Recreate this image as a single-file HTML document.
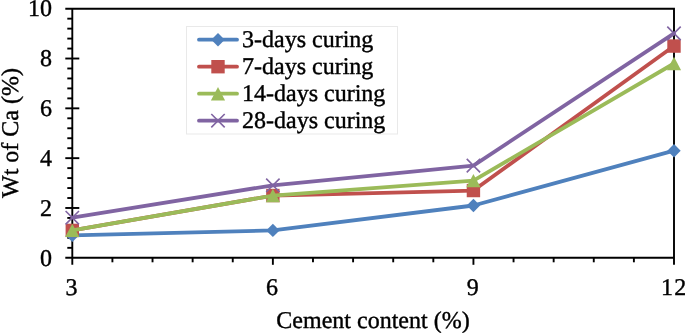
<!DOCTYPE html><html><head><meta charset="utf-8"><style>html,body{margin:0;padding:0;background:#fff;overflow:hidden}svg{display:block;will-change:transform}text{font-family:"Liberation Serif",serif;font-size:24px;fill:#000;stroke:#000;stroke-width:0.4px;text-rendering:geometricPrecision}</style></head><body>
<svg width="685" height="333" viewBox="0 0 685 333">
<rect width="685" height="333" fill="#fff"/>
<g stroke="#000" stroke-width="1.9" fill="none" stroke-linecap="butt">
<path d="M65.30,8.70 H674.00 V264.80"/>
<path d="M72.30,8.70 V264.80"/>
<path d="M65.30,257.80 H674.00"/>
<path d="M67.30,247.84 H72.30"/>
<path d="M67.30,237.87 H72.30"/>
<path d="M67.30,227.91 H72.30"/>
<path d="M67.30,217.94 H72.30"/>
<path d="M65.30,207.98 H79.30"/>
<path d="M67.30,198.02 H72.30"/>
<path d="M67.30,188.05 H72.30"/>
<path d="M67.30,178.09 H72.30"/>
<path d="M67.30,168.12 H72.30"/>
<path d="M65.30,158.16 H79.30"/>
<path d="M67.30,148.20 H72.30"/>
<path d="M67.30,138.23 H72.30"/>
<path d="M67.30,128.27 H72.30"/>
<path d="M67.30,118.30 H72.30"/>
<path d="M65.30,108.34 H79.30"/>
<path d="M67.30,98.38 H72.30"/>
<path d="M67.30,88.41 H72.30"/>
<path d="M67.30,78.45 H72.30"/>
<path d="M67.30,68.48 H72.30"/>
<path d="M65.30,58.52 H79.30"/>
<path d="M67.30,48.56 H72.30"/>
<path d="M67.30,38.59 H72.30"/>
<path d="M67.30,28.63 H72.30"/>
<path d="M67.30,18.66 H72.30"/>
<path d="M112.41,257.80 V262.30"/>
<path d="M152.53,257.80 V262.30"/>
<path d="M192.64,257.80 V262.30"/>
<path d="M232.75,257.80 V262.30"/>
<path d="M272.87,257.80 V264.80"/>
<path d="M312.98,257.80 V262.30"/>
<path d="M353.09,257.80 V262.30"/>
<path d="M393.21,257.80 V262.30"/>
<path d="M433.32,257.80 V262.30"/>
<path d="M473.43,257.80 V264.80"/>
<path d="M513.55,257.80 V262.30"/>
<path d="M553.66,257.80 V262.30"/>
<path d="M593.77,257.80 V262.30"/>
<path d="M633.89,257.80 V262.30"/>
</g>
<rect x="186.5" y="26.5" width="211" height="107.5" fill="#fff" stroke="#e9e9e9" stroke-width="1"/>
<polyline points="72.30,235.38 272.87,230.40 473.43,205.49 674.00,150.69" fill="none" stroke="#4F81BD" stroke-width="3.8" stroke-linejoin="round" stroke-linecap="round"/>
<path d="M65.60,235.38 L72.30,228.68 L79.00,235.38 L72.30,242.08Z" fill="#4F81BD"/>
<path d="M266.17,230.40 L272.87,223.70 L279.57,230.40 L272.87,237.10Z" fill="#4F81BD"/>
<path d="M466.73,205.49 L473.43,198.79 L480.13,205.49 L473.43,212.19Z" fill="#4F81BD"/>
<path d="M667.30,150.69 L674.00,143.99 L680.70,150.69 L674.00,157.39Z" fill="#4F81BD"/>
<polyline points="72.30,230.40 272.87,195.53 473.43,190.54 674.00,46.06" fill="none" stroke="#C0504D" stroke-width="3.8" stroke-linejoin="round" stroke-linecap="round"/>
<rect x="65.60" y="223.70" width="13.40" height="13.40" fill="#C0504D"/>
<rect x="266.17" y="188.83" width="13.40" height="13.40" fill="#C0504D"/>
<rect x="466.73" y="183.84" width="13.40" height="13.40" fill="#C0504D"/>
<rect x="667.30" y="39.36" width="13.40" height="13.40" fill="#C0504D"/>
<polyline points="72.30,230.40 272.87,195.53 473.43,180.58 674.00,63.50" fill="none" stroke="#9BBB59" stroke-width="3.8" stroke-linejoin="round" stroke-linecap="round"/>
<path d="M72.30,223.70 L79.40,237.10 L65.20,237.10Z" fill="#9BBB59"/>
<path d="M272.87,188.83 L279.97,202.22 L265.77,202.22Z" fill="#9BBB59"/>
<path d="M473.43,173.88 L480.53,187.28 L466.33,187.28Z" fill="#9BBB59"/>
<path d="M674.00,56.80 L681.10,70.20 L666.90,70.20Z" fill="#9BBB59"/>
<polyline points="72.30,217.69 272.87,185.31 473.43,165.63 674.00,33.36" fill="none" stroke="#8064A2" stroke-width="3.8" stroke-linejoin="round" stroke-linecap="round"/>
<path d="M65.60,210.99 L79.00,224.39 M79.00,210.99 L65.60,224.39" stroke="#8064A2" stroke-width="1.6" fill="none"/>
<path d="M266.17,178.61 L279.57,192.01 M279.57,178.61 L266.17,192.01" stroke="#8064A2" stroke-width="1.6" fill="none"/>
<path d="M466.73,158.93 L480.13,172.33 M480.13,158.93 L466.73,172.33" stroke="#8064A2" stroke-width="1.6" fill="none"/>
<path d="M667.30,26.66 L680.70,40.06 M680.70,26.66 L667.30,40.06" stroke="#8064A2" stroke-width="1.6" fill="none"/>
<path d="M199,39.7 H237" stroke="#4F81BD" stroke-width="3.8" stroke-linecap="round"/>
<path d="M211.30,39.70 L218.00,33.00 L224.70,39.70 L218.00,46.40Z" fill="#4F81BD"/>
<text x="242" y="47.30">3-days curing</text>
<path d="M199,66.7 H237" stroke="#C0504D" stroke-width="3.8" stroke-linecap="round"/>
<rect x="211.30" y="60.00" width="13.40" height="13.40" fill="#C0504D"/>
<text x="242" y="74.30">7-days curing</text>
<path d="M199,93.7 H237" stroke="#9BBB59" stroke-width="3.8" stroke-linecap="round"/>
<path d="M218.00,87.00 L225.10,100.40 L210.90,100.40Z" fill="#9BBB59"/>
<text x="242" y="101.30">14-days curing</text>
<path d="M199,120.7 H237" stroke="#8064A2" stroke-width="3.8" stroke-linecap="round"/>
<path d="M211.30,114.00 L224.70,127.40 M224.70,114.00 L211.30,127.40" stroke="#8064A2" stroke-width="1.6" fill="none"/>
<text x="242" y="128.30">28-days curing</text>
<text x="52" y="265.50" text-anchor="end">0</text>
<text x="52" y="215.68" text-anchor="end">2</text>
<text x="52" y="165.86" text-anchor="end">4</text>
<text x="52" y="116.04" text-anchor="end">6</text>
<text x="52" y="66.22" text-anchor="end">8</text>
<text x="52" y="16.40" text-anchor="end">10</text>
<text x="71.50" y="294.5" text-anchor="middle">3</text>
<text x="272.07" y="294.5" text-anchor="middle">6</text>
<text x="472.63" y="294.5" text-anchor="middle">9</text>
<text y="294.5"><tspan x="661.10">1</tspan><tspan x="674.30">2</tspan></text>
<text x="373" y="328" text-anchor="middle">Cement content (%)</text>
<text transform="translate(18,133) rotate(-90)" text-anchor="middle">Wt of Ca (%)</text>
</svg></body></html>
